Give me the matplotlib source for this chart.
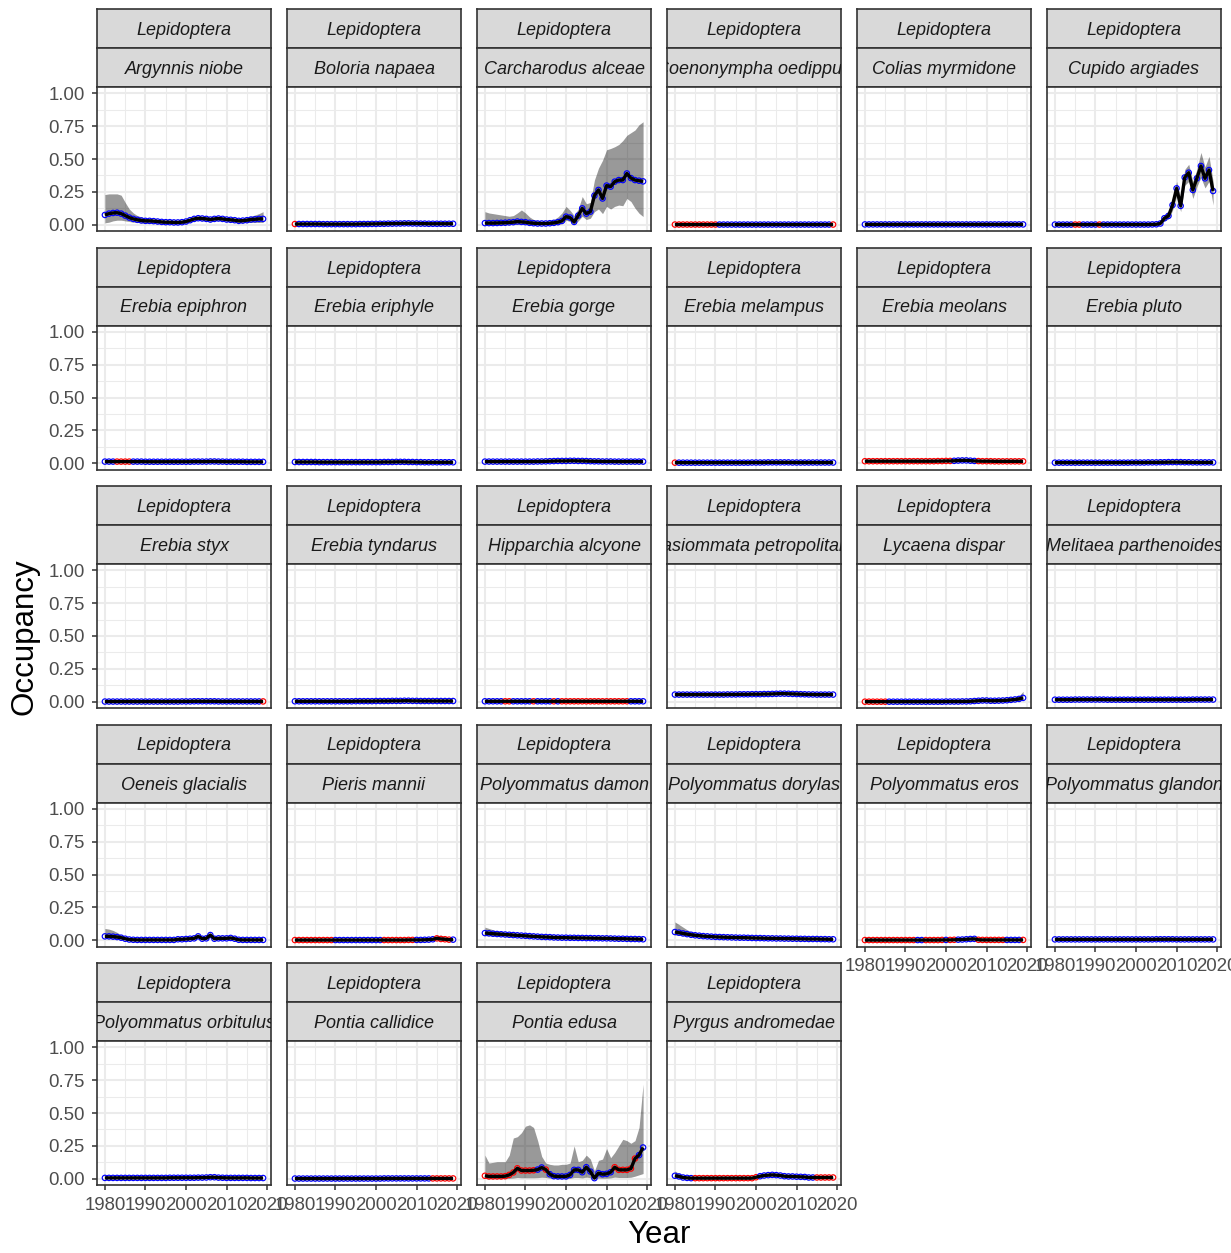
import matplotlib
matplotlib.use("Agg")
import matplotlib.pyplot as plt
from matplotlib.ticker import FixedLocator

plt.rcParams['font.family'] = ['Liberation Sans', 'DejaVu Sans']

# ---------------------------------------------------------------- data
years = list(range(1980, 2020))
order_name = "Lepidoptera"
x_breaks = [1980, 1990, 2000, 2010, 2020]
y_breaks = [0.0, 0.25, 0.5, 0.75, 1.0]
y_labels = ["0.00", "0.25", "0.50", "0.75", "1.00"]

# status codes: B = converged (blue), R = not converged (red)
argynnis_niobe = [0.075, 0.085, 0.09, 0.092, 0.085, 0.07, 0.055, 0.045, 0.038, 0.033,
                  0.03, 0.03, 0.028, 0.025, 0.022, 0.02, 0.02, 0.018, 0.018, 0.02,
                  0.025, 0.035, 0.045, 0.05, 0.048, 0.045, 0.04, 0.045, 0.048, 0.045,
                  0.04, 0.038, 0.035, 0.03, 0.032, 0.035, 0.04, 0.042, 0.045, 0.045]
argynnis_niobe_lo = [0.015, 0.02, 0.03, 0.035, 0.035, 0.03, 0.025, 0.02, 0.018, 0.015,
                     0.013, 0.012, 0.011, 0.01, 0.009, 0.008, 0.008, 0.007, 0.007, 0.008,
                     0.012, 0.02, 0.03, 0.035, 0.034, 0.032, 0.028, 0.032, 0.034, 0.032,
                     0.028, 0.025, 0.022, 0.018, 0.018, 0.018, 0.018, 0.018, 0.018, 0.018]
argynnis_niobe_hi = [0.23, 0.235, 0.235, 0.235, 0.225, 0.17, 0.12, 0.09, 0.07, 0.06,
                     0.05, 0.045, 0.04, 0.035, 0.032, 0.03, 0.03, 0.028, 0.028, 0.03,
                     0.035, 0.045, 0.055, 0.06, 0.058, 0.055, 0.05, 0.055, 0.058, 0.055,
                     0.05, 0.048, 0.045, 0.04, 0.045, 0.055, 0.065, 0.075, 0.085, 0.1]
argynnis_niobe_st = "BBBBBBBBBB" "BBBBBBBBBB" "BBBBBBBBBB" "BBBBBBBBBB"

boloria_napaea = [0.006, 0.006, 0.006, 0.006, 0.006, 0.006, 0.006, 0.005, 0.005, 0.005,
                  0.005, 0.005, 0.005, 0.005, 0.005, 0.005, 0.006, 0.006, 0.006, 0.007,
                  0.007, 0.008, 0.008, 0.009, 0.009, 0.01, 0.01, 0.011, 0.011, 0.01,
                  0.01, 0.009, 0.009, 0.008, 0.008, 0.008, 0.008, 0.008, 0.008, 0.008]
boloria_napaea_st = "RBBBBBBBBB" "BBBBBBBBBB" "BBBBBBBBBB" "BBBBBBBBBB"

carcharodus_alceae = [0.013, 0.013, 0.013, 0.014, 0.015, 0.016, 0.018, 0.02, 0.025, 0.022,
                      0.02, 0.015, 0.012, 0.01, 0.01, 0.01, 0.012, 0.015, 0.02, 0.03,
                      0.062, 0.055, 0.022, 0.07, 0.125, 0.085, 0.1, 0.222, 0.265, 0.2,
                      0.298, 0.29, 0.328, 0.34, 0.34, 0.39, 0.355, 0.34, 0.335, 0.33]
carcharodus_alceae_lo = [0.0, 0.0, 0.0, 0.0, 0.001, 0.001, 0.002, 0.003, 0.004, 0.004,
                         0.003, 0.002, 0.001, 0.001, 0.001, 0.001, 0.001, 0.002, 0.003, 0.008,
                         0.035, 0.025, 0.005, 0.03, 0.065, 0.04, 0.05, 0.1, 0.12, 0.085,
                         0.14, 0.12, 0.14, 0.15, 0.145, 0.2, 0.177, 0.127, 0.088, 0.063]
carcharodus_alceae_hi = [0.1, 0.09, 0.085, 0.08, 0.075, 0.07, 0.065, 0.07, 0.09, 0.113,
                         0.09, 0.06, 0.04, 0.03, 0.025, 0.025, 0.03, 0.04, 0.06, 0.09,
                         0.14, 0.11, 0.07, 0.12, 0.215, 0.16, 0.17, 0.34, 0.43, 0.49,
                         0.57, 0.58, 0.593, 0.61, 0.64, 0.68, 0.7, 0.72, 0.76, 0.783]
carcharodus_alceae_st = "BBBBBBBBBB" "BBBBBBBBBB" "BBBBBBBBBB" "BBBBBBBBBB"

coenonympha_oedippus = [0.002, 0.002, 0.002, 0.002, 0.002, 0.002, 0.002, 0.002, 0.002, 0.002,
                        0.002, 0.002, 0.002, 0.002, 0.002, 0.002, 0.002, 0.002, 0.002, 0.002,
                        0.002, 0.002, 0.002, 0.002, 0.002, 0.002, 0.002, 0.002, 0.002, 0.002,
                        0.002, 0.002, 0.002, 0.002, 0.002, 0.002, 0.002, 0.002, 0.002, 0.002]
coenonympha_oedippus_st = "RRRRRRRRRR" "RBBBBBBBBB" "BBBBBBBBBB" "BBBBBBBBBR"

colias_myrmidone = [0.003, 0.003, 0.003, 0.003, 0.003, 0.003, 0.003, 0.003, 0.003, 0.003,
                    0.003, 0.003, 0.003, 0.003, 0.003, 0.003, 0.003, 0.003, 0.003, 0.003,
                    0.003, 0.003, 0.003, 0.003, 0.003, 0.003, 0.003, 0.003, 0.003, 0.003,
                    0.003, 0.003, 0.003, 0.003, 0.003, 0.003, 0.003, 0.003, 0.003, 0.003]
colias_myrmidone_st = "BBBBBBBBBB" "BBBBBBBBBB" "BBBBBBBBBB" "BBBBBBBBBB"

cupido_argiades = [0.002, 0.002, 0.002, 0.002, 0.002, 0.002, 0.002, 0.002, 0.002, 0.002,
                   0.002, 0.002, 0.002, 0.002, 0.002, 0.002, 0.002, 0.002, 0.002, 0.002,
                   0.002, 0.002, 0.002, 0.002, 0.003, 0.004, 0.01, 0.05, 0.068, 0.15,
                   0.277, 0.144, 0.36, 0.396, 0.265, 0.353, 0.447, 0.353, 0.416, 0.257]
cupido_argiades_lo = [0.0, 0.0, 0.0, 0.0, 0.0, 0.0, 0.0, 0.0, 0.0, 0.0,
                      0.0, 0.0, 0.0, 0.0, 0.0, 0.0, 0.0, 0.0, 0.0, 0.0,
                      0.0, 0.0, 0.0, 0.0, 0.001, 0.002, 0.005, 0.03, 0.045, 0.11,
                      0.22, 0.1, 0.3, 0.33, 0.2, 0.29, 0.36, 0.28, 0.33, 0.15]
cupido_argiades_hi = [0.004, 0.004, 0.004, 0.004, 0.004, 0.004, 0.004, 0.004, 0.004, 0.004,
                      0.004, 0.004, 0.004, 0.004, 0.004, 0.004, 0.004, 0.004, 0.004, 0.004,
                      0.004, 0.004, 0.004, 0.004, 0.006, 0.008, 0.02, 0.08, 0.1, 0.2,
                      0.33, 0.2, 0.42, 0.46, 0.33, 0.42, 0.55, 0.44, 0.52, 0.33]
cupido_argiades_st = "BBBBBRRBBB" "BRBBBBBBBB" "BBBBBBBBBB" "BBBBBBBBBB"

erebia_epiphron = [0.013, 0.013, 0.013, 0.013, 0.013, 0.013, 0.013, 0.013, 0.013, 0.013,
                   0.012, 0.012, 0.012, 0.012, 0.012, 0.012, 0.012, 0.012, 0.012, 0.012,
                   0.012, 0.012, 0.013, 0.013, 0.013, 0.013, 0.014, 0.014, 0.013, 0.013,
                   0.012, 0.012, 0.012, 0.012, 0.012, 0.011, 0.011, 0.011, 0.011, 0.011]
erebia_epiphron_st = "BBBRRRRBBB" "BBBBBBBBBB" "BBBBBBBBBB" "BBBBBBBBBB"

erebia_eriphyle = [0.01, 0.01, 0.01, 0.01, 0.01, 0.01, 0.009, 0.009, 0.009, 0.009,
                   0.009, 0.009, 0.009, 0.009, 0.009, 0.009, 0.009, 0.009, 0.009, 0.009,
                   0.009, 0.009, 0.01, 0.01, 0.01, 0.011, 0.011, 0.011, 0.01, 0.01,
                   0.009, 0.009, 0.008, 0.008, 0.008, 0.008, 0.008, 0.008, 0.008, 0.008]
erebia_eriphyle_st = "BBBBBBBBBB" "BBBBBBBBBB" "BBBBBBBBBB" "BBBBBBBBBB"

erebia_gorge = [0.013, 0.013, 0.013, 0.013, 0.013, 0.013, 0.013, 0.013, 0.013, 0.013,
                0.013, 0.013, 0.013, 0.014, 0.014, 0.015, 0.016, 0.017, 0.018, 0.018,
                0.018, 0.019, 0.019, 0.018, 0.018, 0.017, 0.016, 0.015, 0.015, 0.014,
                0.014, 0.014, 0.013, 0.013, 0.013, 0.013, 0.013, 0.013, 0.013, 0.013]
erebia_gorge_st = "BBBBBBBBBB" "BBBBBBBBBB" "BBBBBBBBBB" "BBBBBBBBBB"

erebia_melampus = [0.005, 0.005, 0.005, 0.005, 0.005, 0.005, 0.005, 0.005, 0.005, 0.005,
                   0.005, 0.005, 0.005, 0.005, 0.005, 0.005, 0.005, 0.005, 0.005, 0.006,
                   0.006, 0.006, 0.006, 0.007, 0.007, 0.007, 0.007, 0.007, 0.007, 0.006,
                   0.006, 0.006, 0.006, 0.006, 0.006, 0.006, 0.006, 0.006, 0.006, 0.006]
erebia_melampus_st = "RBBBBBBBBB" "BBBBBBBBBB" "BBBBBBBBBB" "BBBBBBBBBB"

erebia_meolans = [0.016, 0.016, 0.016, 0.016, 0.016, 0.016, 0.016, 0.016, 0.016, 0.016,
                  0.016, 0.016, 0.016, 0.016, 0.016, 0.016, 0.016, 0.016, 0.017, 0.017,
                  0.018, 0.018, 0.019, 0.021, 0.022, 0.022, 0.02, 0.018, 0.017, 0.016,
                  0.016, 0.016, 0.015, 0.015, 0.015, 0.015, 0.015, 0.015, 0.015, 0.015]
erebia_meolans_st = "RRRRRRRRRR" "RRRRRRRRRR" "RRBBBBBBRR" "RRRRRRRRRR"

erebia_pluto = [0.005, 0.005, 0.005, 0.005, 0.005, 0.005, 0.005, 0.005, 0.005, 0.005,
                0.005, 0.005, 0.005, 0.005, 0.005, 0.005, 0.005, 0.005, 0.005, 0.006,
                0.006, 0.006, 0.006, 0.007, 0.007, 0.007, 0.008, 0.008, 0.009, 0.009,
                0.009, 0.009, 0.008, 0.008, 0.007, 0.007, 0.007, 0.007, 0.007, 0.007]
erebia_pluto_st = "BBBBBBBBBB" "BBBBBBBBBB" "BBBBBBBBBB" "BBBBBBBBBB"

erebia_styx = [0.002, 0.002, 0.002, 0.002, 0.002, 0.002, 0.002, 0.002, 0.002, 0.002,
               0.002, 0.002, 0.002, 0.002, 0.002, 0.002, 0.002, 0.002, 0.002, 0.003,
               0.003, 0.003, 0.004, 0.004, 0.004, 0.004, 0.004, 0.004, 0.003, 0.003,
               0.003, 0.003, 0.003, 0.003, 0.003, 0.003, 0.003, 0.003, 0.003, 0.003]
erebia_styx_st = "BBBBBBBBBB" "BBBBBBBBBB" "BBBBBBBBBB" "BBBBBBBBBR"

erebia_tyndarus = [0.004, 0.004, 0.004, 0.004, 0.004, 0.004, 0.004, 0.004, 0.004, 0.004,
                   0.004, 0.004, 0.004, 0.004, 0.004, 0.005, 0.005, 0.005, 0.005, 0.005,
                   0.006, 0.006, 0.006, 0.006, 0.007, 0.007, 0.007, 0.008, 0.008, 0.007,
                   0.007, 0.006, 0.006, 0.006, 0.006, 0.006, 0.006, 0.006, 0.006, 0.006]
erebia_tyndarus_st = "BBBBBBBBBB" "BBBBBBBBBB" "BBBBBBBBBB" "BBBBBBBBBB"

hipparchia_alcyone = [0.004, 0.004, 0.004, 0.004, 0.004, 0.004, 0.004, 0.004, 0.004, 0.004,
                      0.004, 0.004, 0.004, 0.004, 0.004, 0.004, 0.004, 0.004, 0.004, 0.004,
                      0.004, 0.004, 0.004, 0.004, 0.004, 0.004, 0.004, 0.004, 0.004, 0.004,
                      0.004, 0.004, 0.004, 0.004, 0.004, 0.004, 0.004, 0.004, 0.004, 0.004]
hipparchia_alcyone_st = "BBBBBRRBBB" "BBRBBBBRBR" "RRRRRRRRRR" "RRRRRRBBBB"

kasiommata_petropolitana = [0.055, 0.055, 0.055, 0.055, 0.055, 0.055, 0.055, 0.055, 0.055, 0.055,
                            0.055, 0.055, 0.055, 0.056, 0.056, 0.056, 0.057, 0.057, 0.057, 0.058,
                            0.058, 0.058, 0.059, 0.059, 0.06, 0.061, 0.062, 0.062, 0.061, 0.06,
                            0.059, 0.058, 0.057, 0.056, 0.056, 0.055, 0.055, 0.055, 0.055, 0.055]
kasiommata_petropolitana_st = "BBBBBBBBBB" "BBBBBBBBBB" "BBBBBBBBBB" "BBBBBBBBBB"

lycaena_dispar = [0.001, 0.001, 0.001, 0.001, 0.001, 0.001, 0.001, 0.001, 0.001, 0.001,
                  0.001, 0.001, 0.001, 0.001, 0.001, 0.001, 0.001, 0.001, 0.001, 0.001,
                  0.002, 0.002, 0.002, 0.002, 0.003, 0.003, 0.004, 0.006, 0.008, 0.01,
                  0.01, 0.008, 0.008, 0.009, 0.01, 0.012, 0.015, 0.018, 0.022, 0.03]
lycaena_dispar_lo = [0.0, 0.0, 0.0, 0.0, 0.0, 0.0, 0.0, 0.0, 0.0, 0.0,
                     0.0, 0.0, 0.0, 0.0, 0.0, 0.0, 0.0, 0.0, 0.0, 0.0,
                     0.0, 0.0, 0.0, 0.0, 0.001, 0.001, 0.002, 0.003, 0.004, 0.005,
                     0.005, 0.004, 0.004, 0.004, 0.005, 0.006, 0.007, 0.008, 0.01, 0.015]
lycaena_dispar_hi = [0.002, 0.002, 0.002, 0.002, 0.002, 0.002, 0.002, 0.002, 0.002, 0.002,
                     0.002, 0.002, 0.002, 0.002, 0.002, 0.002, 0.002, 0.002, 0.002, 0.002,
                     0.003, 0.003, 0.003, 0.003, 0.005, 0.005, 0.007, 0.01, 0.013, 0.016,
                     0.016, 0.013, 0.013, 0.015, 0.017, 0.02, 0.025, 0.032, 0.045, 0.08]
lycaena_dispar_st = "RRRRRRBBBB" "BBBBBBBBBB" "BBBBBBBBBB" "BBBBBBBBBB"

melitaea_parthenoides = [0.016, 0.016, 0.016, 0.016, 0.016, 0.017, 0.017, 0.017, 0.017, 0.017,
                         0.017, 0.017, 0.017, 0.016, 0.016, 0.016, 0.016, 0.016, 0.016, 0.016,
                         0.016, 0.016, 0.016, 0.016, 0.016, 0.016, 0.016, 0.016, 0.016, 0.016,
                         0.016, 0.016, 0.016, 0.016, 0.017, 0.017, 0.017, 0.017, 0.017, 0.017]
melitaea_parthenoides_st = "BBBBBBBBBB" "BBBBBBBBBB" "BBBBBBBBBB" "BBBBBBBBBB"

oeneis_glacialis = [0.03, 0.03, 0.028, 0.025, 0.02, 0.012, 0.006, 0.004, 0.003, 0.003,
                    0.003, 0.003, 0.003, 0.003, 0.003, 0.003, 0.003, 0.003, 0.008, 0.008,
                    0.01, 0.012, 0.015, 0.03, 0.012, 0.015, 0.04, 0.012, 0.015, 0.015,
                    0.015, 0.018, 0.012, 0.004, 0.003, 0.003, 0.003, 0.003, 0.003, 0.003]
oeneis_glacialis_lo = [0.015, 0.015, 0.014, 0.012, 0.01, 0.006, 0.003, 0.002, 0.001, 0.001,
                       0.001, 0.001, 0.001, 0.001, 0.001, 0.001, 0.001, 0.001, 0.004, 0.004,
                       0.005, 0.006, 0.008, 0.018, 0.006, 0.008, 0.025, 0.006, 0.008, 0.008,
                       0.008, 0.01, 0.006, 0.002, 0.001, 0.001, 0.001, 0.001, 0.001, 0.001]
oeneis_glacialis_hi = [0.09, 0.085, 0.075, 0.06, 0.04, 0.025, 0.012, 0.008, 0.006, 0.006,
                       0.006, 0.006, 0.006, 0.006, 0.006, 0.006, 0.006, 0.006, 0.013, 0.013,
                       0.016, 0.019, 0.023, 0.042, 0.019, 0.023, 0.055, 0.019, 0.023, 0.023,
                       0.023, 0.026, 0.019, 0.007, 0.006, 0.006, 0.006, 0.006, 0.006, 0.006]
oeneis_glacialis_st = "BBBBBBBBBB" "BBBBBBBBBB" "BBBBBBBBBB" "BBBBBBBBBB"

pieris_mannii = [0.002, 0.002, 0.002, 0.002, 0.002, 0.002, 0.002, 0.002, 0.002, 0.002,
                 0.002, 0.002, 0.002, 0.002, 0.002, 0.002, 0.002, 0.002, 0.002, 0.002,
                 0.002, 0.002, 0.002, 0.002, 0.002, 0.002, 0.002, 0.002, 0.003, 0.003,
                 0.003, 0.003, 0.004, 0.005, 0.008, 0.015, 0.01, 0.008, 0.005, 0.005]
pieris_mannii_lo = [0.0, 0.0, 0.0, 0.0, 0.0, 0.0, 0.0, 0.0, 0.0, 0.0,
                    0.0, 0.0, 0.0, 0.0, 0.0, 0.0, 0.0, 0.0, 0.0, 0.0,
                    0.0, 0.0, 0.0, 0.0, 0.0, 0.0, 0.0, 0.0, 0.0, 0.0,
                    0.0, 0.0, 0.001, 0.001, 0.002, 0.004, 0.003, 0.002, 0.001, 0.001]
pieris_mannii_hi = [0.004, 0.004, 0.004, 0.004, 0.004, 0.004, 0.004, 0.004, 0.004, 0.004,
                    0.004, 0.004, 0.004, 0.004, 0.004, 0.004, 0.004, 0.004, 0.004, 0.004,
                    0.004, 0.004, 0.004, 0.004, 0.004, 0.004, 0.004, 0.004, 0.006, 0.006,
                    0.006, 0.006, 0.008, 0.012, 0.02, 0.035, 0.04, 0.025, 0.015, 0.012]
pieris_mannii_st = "RRRRRRRRRR" "BBBBBBBBBB" "BBRRRRRRRR" "BBBBBRRRRB"

polyommatus_damon = [0.055, 0.053, 0.05, 0.048, 0.046, 0.044, 0.042, 0.04, 0.038, 0.036,
                     0.034, 0.032, 0.03, 0.028, 0.026, 0.025, 0.024, 0.022, 0.021, 0.02,
                     0.02, 0.019, 0.019, 0.018, 0.018, 0.017, 0.017, 0.016, 0.016, 0.015,
                     0.015, 0.014, 0.013, 0.012, 0.012, 0.011, 0.01, 0.01, 0.009, 0.008]
polyommatus_damon_lo = [0.035, 0.035, 0.034, 0.034, 0.033, 0.032, 0.031, 0.03, 0.029, 0.028,
                        0.026, 0.025, 0.023, 0.022, 0.02, 0.019, 0.018, 0.017, 0.016, 0.015,
                        0.015, 0.014, 0.014, 0.013, 0.013, 0.012, 0.012, 0.011, 0.011, 0.01,
                        0.01, 0.009, 0.008, 0.008, 0.008, 0.007, 0.006, 0.006, 0.005, 0.004]
polyommatus_damon_hi = [0.1, 0.09, 0.08, 0.07, 0.065, 0.06, 0.055, 0.052, 0.05, 0.047,
                        0.044, 0.041, 0.038, 0.036, 0.034, 0.032, 0.031, 0.029, 0.028, 0.027,
                        0.026, 0.025, 0.025, 0.024, 0.024, 0.023, 0.023, 0.022, 0.022, 0.021,
                        0.021, 0.02, 0.019, 0.018, 0.018, 0.017, 0.016, 0.016, 0.015, 0.014]
polyommatus_damon_st = "BBBBBBBBBB" "BBBBBBBBBB" "BBBBBBBBBB" "BBBBBBBBBB"

polyommatus_dorylas = [0.063, 0.058, 0.052, 0.047, 0.042, 0.038, 0.035, 0.032, 0.03, 0.028,
                       0.026, 0.025, 0.024, 0.023, 0.022, 0.021, 0.02, 0.02, 0.019, 0.018,
                       0.017, 0.017, 0.016, 0.015, 0.015, 0.014, 0.014, 0.013, 0.013, 0.012,
                       0.012, 0.011, 0.011, 0.01, 0.01, 0.01, 0.009, 0.009, 0.008, 0.008]
polyommatus_dorylas_lo = [0.04, 0.038, 0.036, 0.034, 0.031, 0.029, 0.027, 0.025, 0.024, 0.022,
                          0.021, 0.02, 0.019, 0.018, 0.017, 0.016, 0.015, 0.015, 0.014, 0.013,
                          0.012, 0.012, 0.011, 0.011, 0.011, 0.01, 0.01, 0.009, 0.009, 0.008,
                          0.008, 0.007, 0.007, 0.006, 0.006, 0.006, 0.005, 0.005, 0.004, 0.004]
polyommatus_dorylas_hi = [0.14, 0.12, 0.1, 0.08, 0.065, 0.055, 0.048, 0.043, 0.04, 0.037,
                          0.034, 0.033, 0.032, 0.031, 0.03, 0.029, 0.028, 0.027, 0.026, 0.025,
                          0.024, 0.024, 0.023, 0.022, 0.022, 0.021, 0.021, 0.02, 0.02, 0.019,
                          0.019, 0.018, 0.018, 0.017, 0.017, 0.017, 0.016, 0.016, 0.015, 0.015]
polyommatus_dorylas_st = "BBBBBBBBBB" "BBBBBBBBBB" "BBBBBBBBBB" "BBBBBBBBBB"

polyommatus_eros = [0.002, 0.002, 0.002, 0.002, 0.002, 0.002, 0.002, 0.002, 0.002, 0.002,
                    0.002, 0.002, 0.002, 0.002, 0.002, 0.002, 0.002, 0.002, 0.002, 0.003,
                    0.003, 0.003, 0.004, 0.005, 0.006, 0.008, 0.01, 0.011, 0.004, 0.003,
                    0.003, 0.003, 0.003, 0.003, 0.003, 0.003, 0.003, 0.003, 0.003, 0.003]
polyommatus_eros_st = "RRRRRRRRRR" "RRRBBRRRRR" "BRRBBBBBRR" "RRRRRBBBBR"

polyommatus_glandon = [0.007, 0.007, 0.007, 0.007, 0.007, 0.007, 0.007, 0.007, 0.007, 0.007,
                       0.007, 0.007, 0.007, 0.007, 0.007, 0.007, 0.007, 0.007, 0.007, 0.007,
                       0.007, 0.007, 0.007, 0.007, 0.007, 0.008, 0.008, 0.008, 0.008, 0.008,
                       0.007, 0.007, 0.007, 0.007, 0.007, 0.007, 0.007, 0.007, 0.007, 0.007]
polyommatus_glandon_st = "BBBBBBBBBB" "BBBBBBBBBB" "BBBBBBBBBB" "BBBBBBBBBB"

polyommatus_orbitulus = [0.007, 0.007, 0.007, 0.007, 0.007, 0.007, 0.007, 0.007, 0.007, 0.007,
                         0.007, 0.007, 0.007, 0.007, 0.007, 0.007, 0.008, 0.008, 0.008, 0.008,
                         0.008, 0.008, 0.008, 0.009, 0.009, 0.01, 0.012, 0.012, 0.009, 0.008,
                         0.007, 0.007, 0.007, 0.007, 0.007, 0.007, 0.006, 0.006, 0.006, 0.006]
polyommatus_orbitulus_st = "BBBBBBBBBB" "BBBBBBBBBB" "BBBBBBBBBB" "BBBBBBBBBB"

pontia_callidice = [0.002, 0.002, 0.002, 0.002, 0.002, 0.002, 0.002, 0.002, 0.002, 0.002,
                    0.002, 0.002, 0.002, 0.002, 0.002, 0.002, 0.002, 0.002, 0.002, 0.002,
                    0.002, 0.002, 0.003, 0.003, 0.003, 0.003, 0.003, 0.003, 0.003, 0.003,
                    0.003, 0.003, 0.003, 0.003, 0.003, 0.003, 0.003, 0.003, 0.003, 0.003]
pontia_callidice_st = "BBBBBBBBBB" "BBBBBBBBBB" "BBBBBBBBBB" "BBBBRRRRRR"

pontia_edusa = [0.023, 0.018, 0.018, 0.018, 0.018, 0.02, 0.03, 0.048, 0.08, 0.063,
                0.063, 0.063, 0.065, 0.07, 0.086, 0.07, 0.035, 0.02, 0.018, 0.018,
                0.018, 0.03, 0.068, 0.068, 0.05, 0.088, 0.055, 0.005, 0.043, 0.035,
                0.038, 0.05, 0.088, 0.068, 0.068, 0.068, 0.078, 0.154, 0.18, 0.238]
pontia_edusa_lo = [0.003, 0.002, 0.002, 0.002, 0.002, 0.002, 0.004, 0.006, 0.01, 0.008,
                   0.008, 0.008, 0.008, 0.009, 0.012, 0.01, 0.005, 0.003, 0.002, 0.002,
                   0.002, 0.004, 0.01, 0.01, 0.007, 0.013, 0.008, 0.001, 0.006, 0.005,
                   0.005, 0.007, 0.013, 0.01, 0.01, 0.01, 0.012, 0.02, 0.03, 0.04]
pontia_edusa_hi = [0.18, 0.12, 0.125, 0.13, 0.13, 0.13, 0.18, 0.31, 0.32, 0.35,
                   0.4, 0.41, 0.39, 0.29, 0.17, 0.12, 0.11, 0.105, 0.105, 0.11,
                   0.11, 0.12, 0.25, 0.13, 0.14, 0.18, 0.15, 0.06, 0.14, 0.15,
                   0.23, 0.16, 0.2, 0.25, 0.3, 0.29, 0.27, 0.29, 0.39, 0.72]
pontia_edusa_st = "RRRRRRRRRR" "RRRBBRBBBB" "BBBBBBBBBB" "BBRRRRRRBB"

pyrgus_andromedae = [0.023, 0.018, 0.01, 0.007, 0.005, 0.005, 0.005, 0.005, 0.005, 0.005,
                     0.005, 0.005, 0.005, 0.005, 0.005, 0.005, 0.005, 0.005, 0.005, 0.005,
                     0.012, 0.02, 0.025, 0.028, 0.03, 0.028, 0.025, 0.02, 0.018, 0.018,
                     0.016, 0.015, 0.014, 0.01, 0.01, 0.01, 0.01, 0.01, 0.01, 0.01]
pyrgus_andromedae_lo = [0.008, 0.007, 0.004, 0.003, 0.002, 0.002, 0.002, 0.002, 0.002, 0.002,
                        0.002, 0.002, 0.002, 0.002, 0.002, 0.002, 0.002, 0.002, 0.002, 0.002,
                        0.006, 0.012, 0.016, 0.019, 0.021, 0.019, 0.017, 0.013, 0.011, 0.011,
                        0.01, 0.009, 0.008, 0.005, 0.005, 0.005, 0.005, 0.005, 0.005, 0.005]
pyrgus_andromedae_hi = [0.06, 0.04, 0.02, 0.012, 0.009, 0.009, 0.009, 0.009, 0.009, 0.009,
                        0.009, 0.009, 0.009, 0.009, 0.009, 0.009, 0.009, 0.009, 0.009, 0.009,
                        0.018, 0.028, 0.034, 0.037, 0.04, 0.037, 0.034, 0.028, 0.026, 0.026,
                        0.023, 0.022, 0.02, 0.015, 0.015, 0.015, 0.015, 0.015, 0.015, 0.015]
pyrgus_andromedae_st = "BBBBBRRRRR" "RRRRRRRRRR" "RBBBBBBBBB" "BBBBBRRRRR"

# (name, mean, lower, upper, status) for each facet, in display order
species = [
    ("Argynnis niobe", argynnis_niobe, argynnis_niobe_lo, argynnis_niobe_hi, argynnis_niobe_st),
    ("Boloria napaea", boloria_napaea, None, None, boloria_napaea_st),
    ("Carcharodus alceae", carcharodus_alceae, carcharodus_alceae_lo, carcharodus_alceae_hi, carcharodus_alceae_st),
    ("Coenonympha oedippus", coenonympha_oedippus, None, None, coenonympha_oedippus_st),
    ("Colias myrmidone", colias_myrmidone, None, None, colias_myrmidone_st),
    ("Cupido argiades", cupido_argiades, cupido_argiades_lo, cupido_argiades_hi, cupido_argiades_st),
    ("Erebia epiphron", erebia_epiphron, None, None, erebia_epiphron_st),
    ("Erebia eriphyle", erebia_eriphyle, None, None, erebia_eriphyle_st),
    ("Erebia gorge", erebia_gorge, None, None, erebia_gorge_st),
    ("Erebia melampus", erebia_melampus, None, None, erebia_melampus_st),
    ("Erebia meolans", erebia_meolans, None, None, erebia_meolans_st),
    ("Erebia pluto", erebia_pluto, None, None, erebia_pluto_st),
    ("Erebia styx", erebia_styx, None, None, erebia_styx_st),
    ("Erebia tyndarus", erebia_tyndarus, None, None, erebia_tyndarus_st),
    ("Hipparchia alcyone", hipparchia_alcyone, None, None, hipparchia_alcyone_st),
    ("Kasiommata petropolitana", kasiommata_petropolitana, None, None, kasiommata_petropolitana_st),
    ("Lycaena dispar", lycaena_dispar, lycaena_dispar_lo, lycaena_dispar_hi, lycaena_dispar_st),
    ("Melitaea parthenoides", melitaea_parthenoides, None, None, melitaea_parthenoides_st),
    ("Oeneis glacialis", oeneis_glacialis, oeneis_glacialis_lo, oeneis_glacialis_hi, oeneis_glacialis_st),
    ("Pieris mannii", pieris_mannii, pieris_mannii_lo, pieris_mannii_hi, pieris_mannii_st),
    ("Polyommatus damon", polyommatus_damon, polyommatus_damon_lo, polyommatus_damon_hi, polyommatus_damon_st),
    ("Polyommatus dorylas", polyommatus_dorylas, polyommatus_dorylas_lo, polyommatus_dorylas_hi, polyommatus_dorylas_st),
    ("Polyommatus eros", polyommatus_eros, None, None, polyommatus_eros_st),
    ("Polyommatus glandon", polyommatus_glandon, None, None, polyommatus_glandon_st),
    ("Polyommatus orbitulus", polyommatus_orbitulus, None, None, polyommatus_orbitulus_st),
    ("Pontia callidice", pontia_callidice, None, None, pontia_callidice_st),
    ("Pontia edusa", pontia_edusa, pontia_edusa_lo, pontia_edusa_hi, pontia_edusa_st),
    ("Pyrgus andromedae", pyrgus_andromedae, pyrgus_andromedae_lo, pyrgus_andromedae_hi, pyrgus_andromedae_st),
]

# ---------------------------------------------------------------- layout
W, H = 1231, 1253
fig = plt.figure(figsize=(W / 100, H / 100), dpi=100)
fig.patch.set_facecolor("white")

NCOL = 6
col_left = [97, 287, 477, 667, 857, 1047]
panel_w = 174
row_top = [9, 247.5, 486, 724.5, 963]
strip_h = 39
panel_h = 144

BORDER = "#333333"
STRIP_FILL = "#D9D9D9"
GRID = "#EBEBEB"
TICK_TXT = "#4D4D4D"
status_colour = {"B": "#0000FF", "R": "#FF0000"}


def px_axes(left, top, width, height):
    return fig.add_axes([left / W, 1 - (top + height) / H, width / W, height / H])


def strip(left, top, label):
    sax = px_axes(left, top, panel_w, strip_h)
    sax.set_facecolor(STRIP_FILL)
    sax.set_xticks([])
    sax.set_yticks([])
    for s in sax.spines.values():
        s.set_color(BORDER)
        s.set_linewidth(1.2)
    sax.text(0.5, 0.5, label, transform=sax.transAxes, ha="center", va="center_baseline",
             fontsize=13.0, style="italic", color="#1A1A1A", clip_on=True)


n = len(species)
for i, (name, mean, lo, hi, st) in enumerate(species):
    r, c = divmod(i, NCOL)
    left = col_left[c]
    top = row_top[r]
    strip(left, top, order_name)
    strip(left, top + strip_h, name)
    ax = px_axes(left, top + 2 * strip_h, panel_w, panel_h)
    ax.set_facecolor("white")
    ax.set_xlim(1978.05, 2020.95)
    ax.set_ylim(-0.047, 1.047)
    ax.xaxis.set_major_locator(FixedLocator(x_breaks))
    ax.xaxis.set_minor_locator(FixedLocator([1985, 1995, 2005, 2015]))
    ax.yaxis.set_major_locator(FixedLocator(y_breaks))
    ax.yaxis.set_minor_locator(FixedLocator([0.125, 0.375, 0.625, 0.875]))
    ax.grid(True, which="major", color=GRID, linewidth=1.5, zorder=0)
    ax.grid(True, which="minor", color=GRID, linewidth=0.75, zorder=0)
    ax.set_axisbelow(True)
    for s in ax.spines.values():
        s.set_color(BORDER)
        s.set_linewidth(1.2)
        s.set_zorder(6)

    if lo is not None:
        ax.fill_between(years, lo, hi, color="black", alpha=0.4, linewidth=0, zorder=2)
    cols = [status_colour[k] for k in st]
    ax.scatter(years, mean, s=15, facecolors="none", edgecolors=cols,
               linewidths=0.85, zorder=3)
    ax.plot(years, mean, color="black", linewidth=2.4, zorder=4,
            solid_capstyle="butt", snap=False)

    # outer axes only, as in a wrapped facet layout
    show_x = (i + NCOL >= n)
    show_y = (c == 0)
    ax.tick_params(which="minor", length=0)
    ax.tick_params(which="major", color=BORDER, width=1.1, length=3.5,
                   labelcolor=TICK_TXT, labelsize=13.4)
    ax.tick_params(axis="y", pad=5.5)
    ax.tick_params(axis="x", pad=5.0)
    if show_x:
        ax.set_xticklabels([str(v) for v in x_breaks])
    else:
        ax.tick_params(axis="x", which="major", length=0, labelbottom=False)
    if show_y:
        ax.set_yticklabels(y_labels)
    else:
        ax.tick_params(axis="y", which="major", length=0, labelleft=False)

fig.text(659 / W, 1 - 1235 / H, "Year", ha="center", va="center", fontsize=22.5, color="black")
fig.text(25 / W, 1 - 637 / H, "Occupancy", ha="center", va="center", rotation=90,
         fontsize=22.5, color="black")

fig.savefig("out.png", dpi=100, facecolor="white")
